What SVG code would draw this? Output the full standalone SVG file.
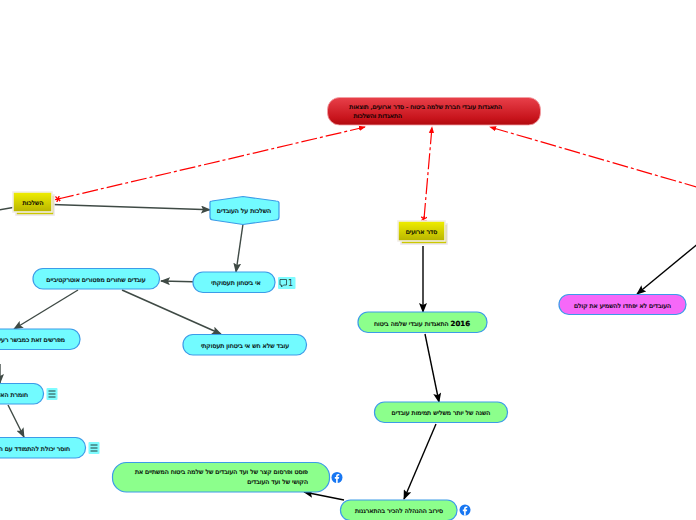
<svg xmlns="http://www.w3.org/2000/svg" width="696" height="520" viewBox="0 0 696 520">
<defs>
<linearGradient id="red" x1="0" y1="0" x2="0" y2="1"><stop offset="0" stop-color="#e8404a"/><stop offset="0.75" stop-color="#c8141c"/><stop offset="1" stop-color="#b00a0e"/></linearGradient>
<linearGradient id="yel" x1="0" y1="0" x2="0" y2="1"><stop offset="0" stop-color="#f0ee00"/><stop offset="1" stop-color="#b8b400"/></linearGradient>
<marker id="ad" markerUnits="userSpaceOnUse" viewBox="0 0 10 8" refX="9" refY="4" markerWidth="10" markerHeight="8" orient="auto"><path d="M0 0L10 4L0 8L2 4Z" fill="#3f4a45"/></marker>
<marker id="ab" markerUnits="userSpaceOnUse" viewBox="0 0 10 8" refX="9" refY="4" markerWidth="10" markerHeight="8" orient="auto"><path d="M0 0L10 4L0 8L2 4Z" fill="#000"/></marker>
<marker id="ar" markerUnits="userSpaceOnUse" viewBox="0 0 8 6" refX="7" refY="3" markerWidth="7" markerHeight="6" orient="auto"><path d="M0 0L8 3L0 6Z" fill="#f00"/></marker>
<marker id="ax" markerUnits="userSpaceOnUse" viewBox="0 0 6 6" refX="3" refY="3" markerWidth="6" markerHeight="6" orient="auto"><path d="M1 0L5 6M5 0L1 6M0 3H6" stroke="#f00" stroke-width="1.3" fill="none"/></marker>
<g id="fb"><circle r="5.5" fill="#1877f2"/><path d="M-0.9 5.5V1.2H-2.2V-0.4H-0.9V-1.5C-0.9-2.9 0-3.6 1.1-3.6L2.3-3.5V-2.1H1.5C0.9-2.1 0.7-1.8 0.7-1.3V-0.4H2.2L2 1.200H0.7V5.5Z" fill="#fff"/></g>
<g id="menu"><rect x="-5.5" y="-6" width="11" height="12" rx="1" fill="#7ffcff"/><path d="M-3.5-3H3.500M-3.500 0H3.500M-3.500 3H3.500" stroke="#24403f" stroke-width="1" fill="none"/></g>
</defs>
<style>
text{font-family:"DejaVu Sans",sans-serif;font-size:6.2px;fill:#000;stroke:#000;stroke-width:0.22;direction:rtl;unicode-bidi:embed}
.m{text-anchor:middle}
.b{fill:#72fbff;stroke:#3c9be8;stroke-width:1.2}
.g{fill:#8cff8c;stroke:#3c9be8;stroke-width:1.2}
.y{fill:url(#yel);stroke:#f2eee8;stroke-width:1.6}
.s{fill:#cbc800;stroke:#ece6ec;stroke-width:1.6}
.d{fill:none;stroke:#3f4a45;stroke-width:1.4;marker-end:url(#ad)}
.k{fill:none;stroke:#000;stroke-width:1.4;marker-end:url(#ab)}
.r{fill:none;stroke:#f00;stroke-width:1.2;stroke-dasharray:16 3 3 3;marker-end:url(#ar);marker-start:url(#ax)}
</style>
<g id="connectors">
<path class="r" d="M58 199L365 127"/>
<path class="r" d="M424 219L432 127"/>
<path class="r" d="M700 188L490 127"/>
<path class="d" d="M-2 210L13 207.500" style="marker-end:none"/>
<path class="d" d="M52 204.500L210 209.800"/>
<path class="d" d="M243 224L236 272"/>
<path class="d" d="M193 281.800L161 281"/>
<path class="d" d="M78 290L14 329"/>
<path class="d" d="M122 290L221 334"/>
<path class="d" d="M0 364L0 383"/>
<path class="d" d="M8 405L24 437"/>
<path class="k" d="M423 246L423 312"/>
<path class="k" d="M425 334L439 402"/>
<path class="k" d="M436 424L404 499"/>
<path class="k" d="M344 500L304 492"/>
<path class="k" d="M700 242L637 294"/>
</g>
<g id="root"><rect x="327.500" y="97.500" width="213" height="27.500" rx="12" fill="url(#red)" stroke="#f3a0a4" stroke-width="0.8"/>
<text x="502" y="109">התאגדות עובדי חברת שלמה ביטוח - סדר ארועים, תוצאות</text>
<text x="402" y="118">התאגדות והשלכות</text></g>
<g id="n-hashlachot"><rect class="s" x="16" y="195" width="38" height="20"/><rect class="y" x="13" y="192" width="39" height="20"/><text class="m" x="33" y="205">השלכות</text></g>
<g id="n-seder"><rect class="s" x="401" y="224" width="46" height="20"/><rect class="y" x="398" y="221" width="47" height="20"/><text class="m" x="421.500" y="233.500">סדר ארועים</text></g>
<g id="n-ovdim"><path class="b" d="M210 202Q210 201 212 201L243 196.500L276 201Q279 201 279 203V217Q279 220 276 220L243 224.500L213 220Q210 220 210 217Z"/><text class="m" x="244" y="213">השלכות על העובדים</text></g>
<g id="n-bitachon"><rect class="b" x="193" y="272" width="82" height="20.500" rx="10"/><text class="m" x="236" y="285">אי ביטחון תעסוקתי</text>
<rect x="278" y="277" width="17.500" height="12" rx="1" fill="#7ffcff"/><path d="M280 279.500H286.500V285H283.500L281.500 287V285H280Z" fill="none" stroke="#24403f" stroke-width="0.8"/><text x="293" y="286" style="font-size:8px;stroke:none;direction:ltr;text-anchor:end;fill:#24403f">1</text></g>
<g id="n-shchorim"><rect class="b" x="33" y="268.500" width="126.500" height="20.500" rx="10"/><text class="m" x="96" y="281.500">עובדים שחורים מפטורים אוטרקטיביים</text></g>
<g id="n-mefarshim"><rect class="b" x="-40" y="329" width="120" height="20.500" rx="10"/><text x="65" y="342">מפרשים זאת כמבשר רעי</text></g>
<g id="n-lo-chash"><rect class="b" x="183" y="334.500" width="123.500" height="20.500" rx="10"/><text class="m" x="245" y="347.500">עובד שלא חש אי ביטחון תעסוקתי</text></g>
<g id="n-chumrat"><rect class="b" x="-40" y="383.500" width="83.500" height="20.500" rx="10"/><text x="28" y="396.500">חומרת האיום</text><use href="#menu" x="52" y="394"/></g>
<g id="n-choser"><rect class="b" x="-40" y="437.500" width="125.500" height="20.500" rx="10"/><text x="70" y="450.500">חוסר יכולת להתמודד עם המצב</text><use href="#menu" x="94" y="448"/></g>
<g id="n-2016"><rect class="g" x="358" y="312" width="129" height="20.500" rx="10"/><text class="m" x="422" y="325.500"><tspan style="font-weight:bold;font-size:7px">2016</tspan> התאגדות עובדי שלמה ביטוח</text></g>
<g id="n-shana"><rect class="g" x="374.500" y="402" width="133" height="20.500" rx="10"/><text class="m" x="441" y="415">השנה של יותר משליש תמימות עובדים</text></g>
<g id="n-seruv"><rect class="g" x="340.500" y="500" width="116.500" height="20.500" rx="10"/><text class="m" x="399" y="512.500">סירוב ההנהלה להכיר בהתארגנות</text><use href="#fb" x="465" y="510"/></g>
<g id="n-post"><rect class="g" x="112.500" y="462.500" width="217" height="29.500" rx="14"/><text x="308" y="474">פוסט ופרסום קצר של ועד העובדים של שלמה ביטוח המשתיים את</text><text x="308" y="484">הקושי של ועד העובדים</text><use href="#fb" x="337" y="477.500"/></g>
<g id="n-purple"><rect x="559" y="294.500" width="127" height="20" rx="10" fill="#f668f8" stroke="#3c9be8" stroke-width="1.2"/><text class="m" x="622.500" y="307.500">העובדים לא יפחדו להשמיע את קולם</text></g>
</svg>
